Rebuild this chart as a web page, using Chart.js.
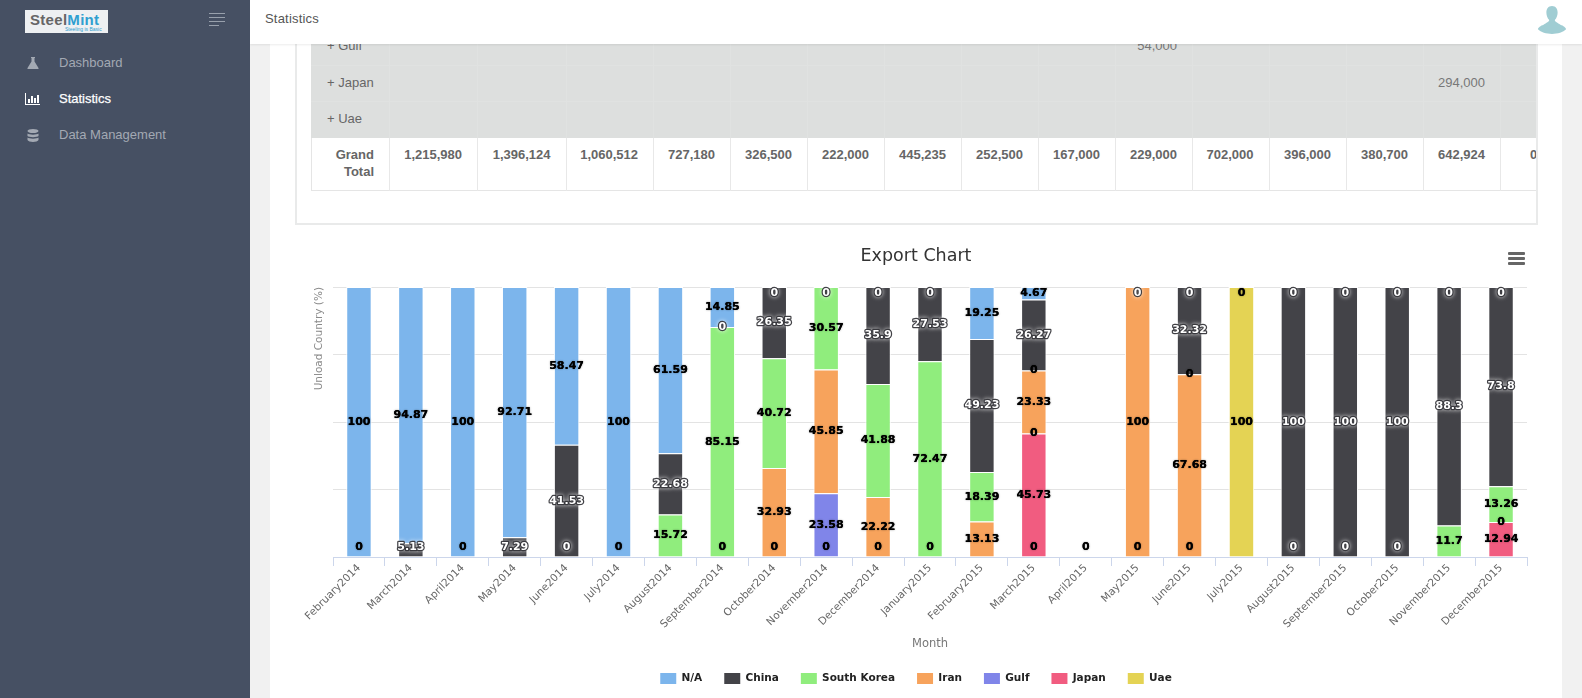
<!DOCTYPE html>
<html><head><meta charset="utf-8">
<script src="https://cdn.jsdelivr.net/npm/chart.js@4/dist/chart.umd.min.js"></script>
<style>
html,body{margin:0;padding:0;width:1582px;height:698px;overflow:hidden;background:#f1f1f1;font-family:"Liberation Sans",Arial,sans-serif}
.abs{position:absolute}
#side{left:0;top:0;width:250px;height:698px;background:#465063;z-index:5}
#top{left:250px;top:0;width:1332px;height:44px;background:#fff;z-index:4;box-shadow:0 1px 2px rgba(0,0,0,.08)}
#main{left:270px;top:0;width:1292px;height:698px;background:#fff}
#panel{left:295px;top:30px;width:1239px;height:193px;border:2px solid #e9eaea;border-top:0}
.nav{position:absolute;left:59px;font-size:13px;color:#a3a9b3;line-height:16px}
.cell{position:absolute;box-sizing:border-box;font-size:13px;line-height:17px;color:#666;text-align:right;padding-right:15px;white-space:nowrap;overflow:hidden}
canvas{position:absolute;left:297px;top:232px}
</style></head><body>
<div id="main" class="abs"></div>
<div id="panel" class="abs"></div>
<div id="tbl" class="abs" style="left:0;top:0"></div>
<div id="top" class="abs"><div style="position:absolute;left:15px;top:11px;font-size:13px;color:#555;letter-spacing:.2px">Statistics</div>
<svg style="position:absolute;left:1287px;top:3px" width="30" height="32" viewBox="0 0 32 32"><path fill="#a0cdd3" d="M16 2c4 0 6 3 6 7 0 3-1 6-3 8 0 2 3 3 6 5 3 1 6 3 6 5-3 3-9 5-15 5S4 30 1 27c0-2 3-4 6-5 3-2 6-3 6-5-2-2-3-5-3-8 0-4 2-7 6-7z"/></svg></div>
<div id="side" class="abs">
<div style="position:absolute;left:25px;top:10px;width:83px;height:23px;background:#eef0f2;overflow:hidden">
<div style="position:absolute;left:5px;top:1px;font:bold 15px 'Liberation Sans';color:#666;letter-spacing:.3px">Steel<span style="color:#2f9fd0">Mint</span></div>
<div style="position:absolute;left:40px;top:16px;font:5px 'Liberation Sans';color:#2f9fd0">Steeling is Basic</div></div>
<svg style="position:absolute;left:209px;top:12px" width="16" height="14"><g stroke="#98a0ac" stroke-width="1"><path d="M0 1.5H16M0 5.5H16M0 9.5H16M0 13.5H10"/></g></svg>
<svg style="position:absolute;left:27px;top:57px" width="12" height="12" viewBox="0 0 12 12"><path fill="#a3a9b3" d="M4 0h4v1H7.500v3.500L11.500 11c.2.500 0 1-.6 1H1.100c-.6 0-.8-.5-.6-1L4.500 4.500V1H4z"/></svg>
<svg style="position:absolute;left:25px;top:93px" width="15" height="12"><path fill="#fff" d="M0 0h1v11h14v1H0zM3 6h2v4H3zM6 3h2v7H6zM9 5h2v5H9zM12 2h2v8h-2z"/></svg>
<svg style="position:absolute;left:27px;top:129px" width="12" height="13"><g fill="#a3a9b3"><ellipse cx="6" cy="2" rx="5.500" ry="2"/><path d="M.5 4.500c1 1.500 10 1.500 11 0V7c-1 1.500-10 1.500-11 0zM.5 8.500c1 1.500 10 1.500 11 0V11c-1 2.500-10 2.500-11 0z"/></g></svg>
<div class="nav" style="top:55px">Dashboard</div>
<div class="nav" style="top:91px;color:#fff;-webkit-text-stroke:.25px #fff">Statistics</div>
<div class="nav" style="top:127px">Data Management</div>
</div>
<canvas id="c" width="1238" height="486"></canvas>
<svg class="abs" style="left:1508px;top:252px" width="17" height="13"><g fill="#666"><rect width="17" height="3" rx="1"/><rect y="5" width="17" height="3" rx="1"/><rect y="10" width="17" height="3" rx="1"/></g></svg>
<script>
const categories=["February2014","March2014","April2014","May2014","June2014","July2014","August2014","September2014","October2014","November2014","December2014","January2015","February2015","March2015","April2015","May2015","June2015","July2015","August2015","September2015","October2015","November2015","December2015"];
const _=null;
const naValues   =[100,94.87,100,92.71,58.47,100,61.59,14.85,0,_,0,0,19.25,4.67,_,_,0,0,0,0,0,0,0];
const chinaValues=[_,5.13,_,7.29,41.53,_,22.68,0,26.35,0,35.9,27.53,49.23,26.27,_,0,32.32,_,100,100,100,88.3,73.8];
const koreaValues=[_,_,_,_,_,_,15.72,85.15,40.72,30.57,41.88,72.47,18.39,0,_,_,0,_,_,_,_,11.7,13.26];
const iranValues =[_,_,_,_,_,_,_,_,32.93,45.85,22.22,_,13.13,23.33,_,100,67.68,_,_,_,_,_,0];
const gulfValues =[_,_,_,_,_,_,_,_,_,23.58,_,_,_,0,_,_,_,_,_,_,_,_,_];
const japanValues=[_,_,_,_,_,_,_,_,_,_,_,_,_,45.73,_,_,_,_,_,_,_,_,12.94];
const uaeValues  =[0,_,0,_,0,0,_,0,0,0,0,0,_,0,0,0,0,100,0,0,0,_,_];
const seriesNames=["N/A","China","South Korea","Iran","Gulf","Japan","Uae"];
const seriesColors=["#7cb5ec","#434348","#90ed7d","#f7a35c","#8085e9","#f15c80","#e4d354"];
const seriesValues=[naValues,chinaValues,koreaValues,iranValues,gulfValues,japanValues,uaeValues];

const tableHeads=["+ Gulf","+ Japan","+ Uae"];
const grandTotals=["1,215,980","1,396,124","1,060,512","727,180","326,500","222,000","445,235","252,500","167,000","229,000","702,000","396,000","380,700","642,924","0"];
const colEdges=[311,389,477,565.5,653,730,807,884,961,1038,1115,1192,1268.5,1346,1423,1500,1536];

(function(){
 const t=document.getElementById('tbl');let h='';
 h+='<div class="abs" style="left:311px;top:44px;width:1225px;height:94px;background:#dddfde"></div>';
 h+='<div class="abs" style="left:311px;top:138px;width:1225px;height:53px;border-left:1px solid #e5e5e5;border-bottom:1.500px solid #e5e5e5;box-sizing:border-box"></div>';
 for(let i=1;i<colEdges.length-1;i++){
  h+=`<div class="abs" style="left:${colEdges[i]}px;top:44px;width:1px;height:94px;background:#e0e2e1"></div>`;
  h+=`<div class="abs" style="left:${colEdges[i]}px;top:138px;width:1px;height:53px;background:#e8e8e8"></div>`;
 }
 [65,101].forEach(y=>h+=`<div class="abs" style="left:311px;top:${y}px;width:1225px;height:1px;background:#e0e2e1"></div>`);
 [28,65,101].forEach((y,i)=>h+=`<div class="cell" style="left:327px;top:${y}px;height:36px;line-height:36px;text-align:left;padding:0;color:#666">${tableHeads[i]}</div>`);
 h+=`<div class="cell" style="left:1115px;top:28px;width:77px;height:36px;line-height:36px;color:#777">54,000</div>`;
 h+=`<div class="cell" style="left:1423px;top:65px;width:77px;height:36px;line-height:36px;color:#777">294,000</div>`;
 h+=`<div class="cell" style="left:311px;top:146px;width:78px;font-weight:bold;color:#666">Grand<br>Total</div>`;
 grandTotals.forEach((v,i)=>{
  const w=colEdges[i+2]-colEdges[i+1];
  const s=i===14?'padding:0 0 0 30px;text-align:left;':'';
  h+=`<div class="cell" style="left:${colEdges[i+1]}px;top:146px;width:${w}px;font-weight:bold;color:#666;${s}">${v}</div>`;
 });
 t.innerHTML=h;
})();

const FONT='"DejaVu Sans"';
const datasets=seriesNames.map((n,i)=>({label:n,data:seriesValues[i],backgroundColor:seriesColors[i],borderColor:'#fff',borderWidth:1,stack:'s',categoryPercentage:1,barPercentage:0.49})).reverse();
const DARK="#434348";

const labelPlugin={id:'pointLabels',afterDatasetsDraw(chart){
 const ctx=chart.ctx,area=chart.chartArea;
 ctx.save();ctx.font='bold 11px '+FONT;ctx.textAlign='center';ctx.textBaseline='middle';ctx.lineJoin='round';
 chart.data.datasets.forEach((ds,di)=>{
  const meta=chart.getDatasetMeta(di);
  ds.data.forEach((v,i)=>{
   if(v===null)return;
   const p=meta.data[i].getProps(['x','y','base'],true);
   let y=(p.y+p.base)/2;
   y=Math.min(Math.max(y,area.top+6.5),area.bottom-9.5);
   let col=ds.backgroundColor;
   if(v===0&&col!==DARK){
    let found=null;
    for(let k=di-1;k>=0&&!found;k--){const w=chart.data.datasets[k].data[i];if(w>0)found=chart.data.datasets[k].backgroundColor;}
    for(let k=di+1;k<chart.data.datasets.length&&!found;k++){const w=chart.data.datasets[k].data[i];if(w>0)found=chart.data.datasets[k].backgroundColor;}
    col=found||'#fff';
   }
   const t=String(v),x=p.x;
   if(col===DARK){
     ctx.shadowColor='rgba(255,255,255,.9)';ctx.shadowBlur=4;
     ctx.strokeStyle='rgba(50,50,55,.85)';ctx.lineWidth=2.5;ctx.strokeText(t,x,y);
     ctx.shadowBlur=0;
     ctx.strokeStyle='rgba(50,50,55,.7)';ctx.lineWidth=1.5;ctx.strokeText(t,x,y);
     ctx.fillStyle='#fff';ctx.fillText(t,x,y);
   }else{
     ctx.shadowColor='rgba(0,0,0,.45)';ctx.shadowBlur=2;
     ctx.fillStyle='#000';ctx.fillText(t,x,y);
     ctx.shadowBlur=0;ctx.fillText(t,x,y);
   }
  });
 });
 ctx.restore();
}};

new Chart(document.getElementById('c'),{
 type:'bar',
 data:{labels:categories,datasets},
 plugins:[labelPlugin],
 options:{
  responsive:false,animation:false,devicePixelRatio:1,
  layout:{padding:{left:8,right:8,top:0,bottom:24}},
  plugins:{
   tooltip:{enabled:false},
   title:{display:true,text:'Export Chart',color:'#333',font:{family:FONT,size:17.5,weight:'normal'},padding:{top:14,bottom:20}},
   legend:{position:'bottom',reverse:true,labels:{
     color:'#222',font:{family:FONT,size:10.5,weight:'bold'},boxWidth:16,boxHeight:11,padding:22,
     generateLabels(chart){return Chart.defaults.plugins.legend.labels.generateLabels(chart).map(l=>({...l,strokeStyle:l.fillStyle,lineWidth:0}));}
   }}
  },
  scales:{
   x:{stacked:true,offset:true,
      grid:{display:true,drawOnChartArea:false,offset:true,color:'#ccd6eb',tickLength:9},
      border:{color:'#ccd6eb'},
      ticks:{autoSkip:false,minRotation:45,maxRotation:45,color:'#666',font:{family:FONT,size:10.5},padding:-4},
      title:{display:true,text:'Month',color:'#777',font:{family:FONT,size:11.5,weight:'normal'},padding:{top:0,bottom:0}},
      afterFit(s){s.height=94;}},
   y:{stacked:true,min:0,max:100,
      grid:{color:'#e3e3e3',drawTicks:false},border:{display:false},
      ticks:{display:false,stepSize:25},
      title:{display:true,text:'Unload Country (%)',align:'end',color:'#8a8a8a',font:{family:FONT,size:10.5},padding:{top:8,bottom:0}},
      afterFit(s){s.width=28;}}
  }
 }
});
</script>
</body></html>
